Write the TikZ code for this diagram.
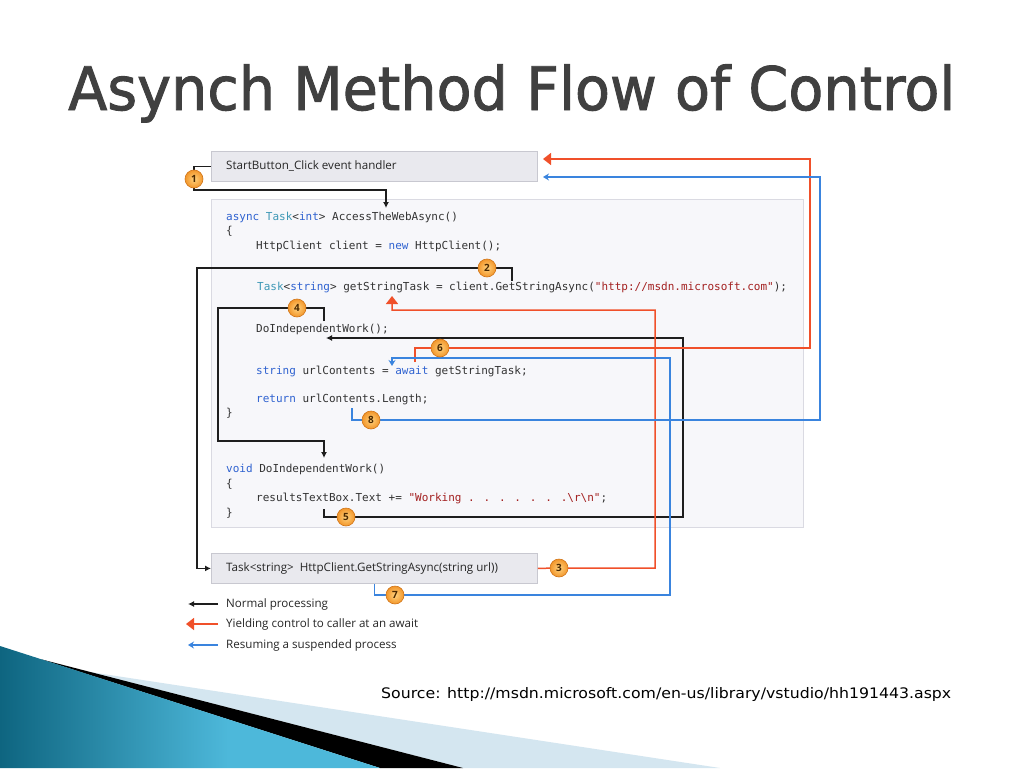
\documentclass[tikz,border=0pt]{standalone}
\usepackage{fontspec}
\usepackage{graphicx}
\setmainfont{Open Sans}
\newfontfamily\titlefont{DejaVu Sans}
\newfontfamily\titleboldfont[FakeBold=1.6]{DejaVu Sans}
\newfontfamily\codefont{DejaVu Sans Mono}
\usetikzlibrary{arrows.meta}
\definecolor{titlegray}{HTML}{404040}
\definecolor{codegray}{HTML}{333333}
\definecolor{kwblue}{HTML}{2F62D0}
\definecolor{tyteal}{HTML}{3E98B6}
\definecolor{strred}{HTML}{A32020}
\definecolor{boxfill}{HTML}{E9E9EE}
\definecolor{boxline}{HTML}{C8C8D0}
\definecolor{codefill}{HTML}{F7F7FA}
\definecolor{codeline}{HTML}{DADAE2}
\definecolor{blkline}{HTML}{1E1E1E}
\definecolor{redline}{HTML}{F0502A}
\definecolor{blueline}{HTML}{3A84DE}
\definecolor{mkin}{HTML}{FFD27E}
\definecolor{mkout}{HTML}{F2962A}
\definecolor{mkedge}{HTML}{D07418}
\definecolor{mktext}{HTML}{4A2800}
\definecolor{tealdark}{HTML}{0E6580}
\definecolor{tealmid}{HTML}{4DB8DA}
\definecolor{tealright}{HTML}{1A7C9A}
\definecolor{lightwedge}{HTML}{D4E6F0}
\pgfdeclarehorizontalshading{tealshade}{100bp}{color(0bp)=(tealdark); color(25bp)=(tealdark); color(55bp)=(tealmid); color(75bp)=(tealmid); color(100bp)=(tealright)}
\newcommand\ckw[1]{\textcolor{kwblue}{#1}}
\newcommand\cty[1]{\textcolor{tyteal}{#1}}
\newcommand\cstr[1]{\textcolor{strred}{#1}}
\begin{document}
\begin{tikzpicture}[x=1pt,y=-1pt,
  gbox/.style={draw=boxline, fill=boxfill, line width=0.8pt, inner sep=0pt, anchor=north west},
  codebox/.style={draw=codeline, fill=codefill, line width=0.8pt, inner sep=0pt, anchor=north west},
  lbl/.style={anchor=west, inner sep=0pt, text=black!85, font=\fontsize{11.6}{13}\selectfont},
  codeln/.style={anchor=base west, inner sep=0pt, text=codegray, font=\codefont\fontsize{11}{13}\selectfont},
  blk/.style={draw=blkline, line width=1.5pt, -{Latex[length=6pt,width=6pt]}},
  redl/.style={draw=redline, line width=1.5pt, -{Triangle[length=8pt,width=12pt]}},
  bluel/.style={draw=blueline, line width=1.5pt, -{Stealth[length=6pt,width=7pt]}},
  marker/.style={circle, minimum size=18pt, inner sep=0pt, draw=mkedge, line width=0.6pt,
    inner color=mkin, outer color=mkout, text=mktext, font=\bfseries\fontsize{10}{10}\selectfont}
]
\useasboundingbox (0,0) rectangle (1024,768);
\fill[white] (0,0) rectangle (1024,768);

% bottom-left wedges
\fill[lightwedge] (90,672) -- (720,768) -- (463,768) -- cycle;
\fill[black] (40,659) -- (463,768) -- (380,768) -- cycle;
\shade[shading=tealshade] (0,646) -- (380,768) -- (0,768) -- cycle;

% title
\node[anchor=base west, inner sep=0pt, text=titlegray] (title) at (68,110)
  {\resizebox{887pt}{\height}{\titleboldfont\fontsize{60}{60}\selectfont Asynch Method Flow of Control}};

% boxes
\node[gbox, minimum width=326pt, minimum height=30pt] (sb) at (211,151) {};
\node[lbl] (sbt) at (226,166) {StartButton\_Click event handler};
\node[codebox, minimum width=592pt, minimum height=328pt] (code) at (211,199) {};
\node[gbox, minimum width=326pt, minimum height=30pt] (hc) at (211,553) {};
\node[lbl] (hct) at (226,568) {Task<string>\ \ HttpClient.GetStringAsync(string url))};

% code lines
\node[codeln] (L1) at (226,220.5) {\ckw{async} \cty{Task}<\ckw{int}> AccessTheWebAsync()};
\node[codeln] (L2) at (226,234.5) {\{};
\node[codeln] (L3) at (256,249.5) {HttpClient client = \ckw{new} HttpClient();};
\node[codeln] (L4) at (257,290.5) {\cty{Task}<\ckw{string}> getStringTask = client.GetStringAsync(\cstr{"http://msdn.microsoft.com"});};
\node[codeln] (L5) at (256,332.5) {DoIndependentWork();};
\node[codeln] (L6) at (256,374.5) {\ckw{string} urlContents = \ckw{await} getStringTask;};
\node[codeln] (L7) at (256,402.5) {\ckw{return} urlContents.Length;};
\node[codeln] (L8) at (226,416.5) {\}};
\node[codeln] (L9) at (226,472.5) {\ckw{void} DoIndependentWork()};
\node[codeln] (L10) at (226,487.5) {\{};
\node[codeln] (L11) at (256,501.5) {resultsTextBox.Text += \cstr{"Working . . . . . . .\textbackslash r\textbackslash n"};};
\node[codeln] (L12) at (226,516.5) {\}};

% marker positions
\coordinate (c1) at (194,179);
\coordinate (c2) at (487,268);
\coordinate (c3) at (559,568);
\coordinate (c4) at (297,308);
\coordinate (c5) at (346,517);
\coordinate (c6) at (440,348);
\coordinate (c7) at (395,595);
\coordinate (c8) at (371,420);

% connector helper points
\coordinate (k1) at (386,190);
\coordinate (a1) at (386,208);
\coordinate (s2) at (512,281);
\coordinate (k2) at (197,268);
\coordinate (k3) at (655,310);
\coordinate (a3) at (392,296);
\coordinate (s4) at (324,321);
\coordinate (k4) at (218,308);
\coordinate (k4b) at (324,441);
\coordinate (a4) at (324,458);
\coordinate (s5) at (324,509);
\coordinate (k5) at (683,338);
\coordinate (a5) at (326,338);
\coordinate (s6) at (415,362);
\coordinate (k6) at (810,159);
\coordinate (a6) at (543,159);
\coordinate (k7) at (670,358);
\coordinate (a7) at (392,366);
\coordinate (s8) at (352,408);
\coordinate (k8) at (820,177);
\coordinate (a8) at (543,177);

% connectors
\draw[blk] (sb.west) -| (c1) |- (k1) -- (a1);
\draw[blk] (s2) |- (c2) -- (k2) |- (hc.west);
\draw[blk] (s4) |- (c4) -- (k4) |- (k4b) -- (a4);
\draw[blk] (s5) |- (c5) -| (k5) -- (a5);
\draw[redl] (hc.east) -- (c3) -| (k3) -| (a3);
\draw[redl] (s6) |- (c6) -| (k6) -- (a6);
\draw[bluel] (hc.south) |- (c7) -| (k7) -| (a7);
\draw[bluel] (s8) |- (c8) -| (k8) -- (a8);

% markers
\node[marker] (m1) at (c1) {1};
\node[marker] (m2) at (c2) {2};
\node[marker] (m3) at (c3) {3};
\node[marker] (m4) at (c4) {4};
\node[marker] (m5) at (c5) {5};
\node[marker] (m6) at (c6) {6};
\node[marker] (m7) at (c7) {7};
\node[marker] (m8) at (c8) {8};

% legend
\coordinate (g1s) at (218,604);
\coordinate (g1e) at (188,604);
\coordinate (g2s) at (218,624);
\coordinate (g2e) at (186,624);
\coordinate (g3s) at (218,645);
\coordinate (g3e) at (188,645);
\draw[blk] (g1s) -- (g1e);
\draw[redl] (g2s) -- (g2e);
\draw[bluel] (g3s) -- (g3e);
\node[lbl] (t1) at (226,604) {Normal processing};
\node[lbl] (t2) at (226,624) {Yielding control to caller at an await};
\node[lbl] (t3) at (226,645) {Resuming a suspended process};

% source
\node[anchor=base west, inner sep=0pt, text=black] (src) at (381,698)
  {\resizebox{570pt}{\height}{\titlefont\fontsize{14.5}{16}\selectfont Source: http://msdn.microsoft.com/en-us/library/vstudio/hh191443.aspx}};
\end{tikzpicture}
\end{document}
